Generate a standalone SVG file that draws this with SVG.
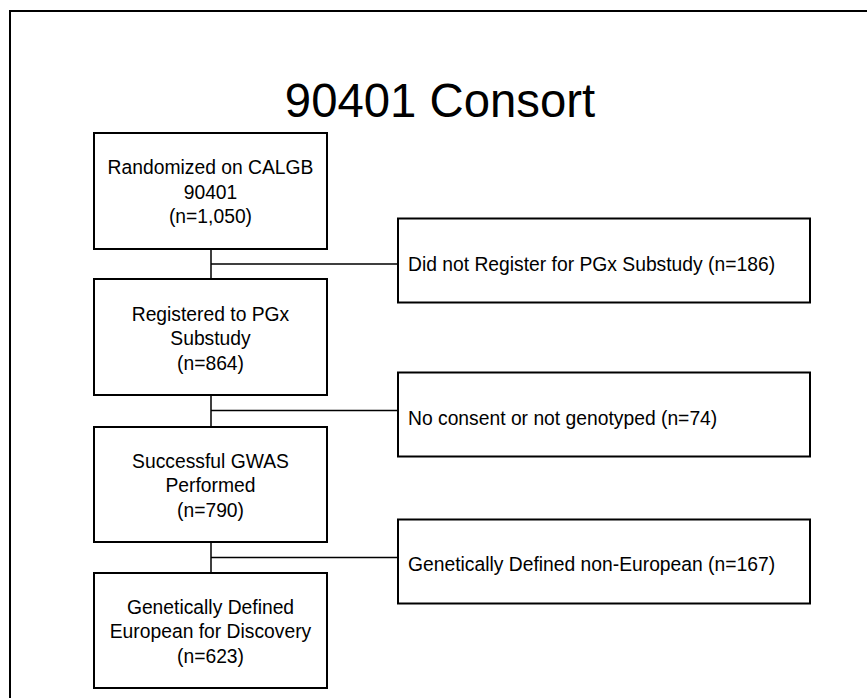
<svg xmlns="http://www.w3.org/2000/svg" width="867" height="698" viewBox="0 0 867 698">
<style>
.box{fill:#fff;stroke:#000;stroke-width:2}
.t{font-family:"Liberation Sans",Arial,sans-serif;font-size:19.3px;fill:#000}
.c{text-anchor:middle}
.conn{stroke:#000;stroke-width:1.5;fill:none}
</style>
<rect x="0" y="0" width="867" height="698" fill="#fff"/>
<rect x="10" y="11" width="900" height="800" fill="none" stroke="#000" stroke-width="2"/>
<text x="440" y="117" style="font-family:'Liberation Sans',Arial,sans-serif;font-size:47.3px;fill:#000" text-anchor="middle">90401 Consort</text>
<g id="connectors">
<path class="conn" d="M211,249 V279 M211,264 H398"/>
<path class="conn" d="M211,395 V427 M211,410.5 H398"/>
<path class="conn" d="M211,542 V573 M211,557.5 H398"/>
</g>
<g id="n1">
<rect class="box" x="94" y="133" width="233" height="116"/>
<text class="t c" x="210.5" y="174">Randomized on CALGB</text>
<text class="t c" x="210.5" y="198.5">90401</text>
<text class="t c" x="210.5" y="223">(n=1,050)</text>
</g>
<g id="n2">
<rect class="box" x="94" y="279" width="233" height="116"/>
<text class="t c" x="210.5" y="320.5">Registered to PGx</text>
<text class="t c" x="210.5" y="345">Substudy</text>
<text class="t c" x="210.5" y="369.5">(n=864)</text>
</g>
<g id="n3">
<rect class="box" x="94" y="427" width="233" height="115"/>
<text class="t c" x="210.5" y="467.5">Successful GWAS</text>
<text class="t c" x="210.5" y="492">Performed</text>
<text class="t c" x="210.5" y="516.5">(n=790)</text>
</g>
<g id="n4">
<rect class="box" x="94" y="573" width="233" height="115"/>
<text class="t c" x="210.5" y="613.5">Genetically Defined</text>
<text class="t c" x="210.5" y="638">European for Discovery</text>
<text class="t c" x="210.5" y="662.5">(n=623)</text>
</g>
<g id="r1">
<rect class="box" x="398" y="218.5" width="412" height="84"/>
<text class="t" x="408" y="270.5">Did not Register for PGx Substudy (n=186)</text>
</g>
<g id="r2">
<rect class="box" x="398" y="372.5" width="412" height="84"/>
<text class="t" x="408" y="425">No consent or not genotyped (n=74)</text>
</g>
<g id="r3">
<rect class="box" x="398" y="519.5" width="412" height="84"/>
<text class="t" x="408" y="570.5">Genetically Defined non-European (n=167)</text>
</g>
</svg>
